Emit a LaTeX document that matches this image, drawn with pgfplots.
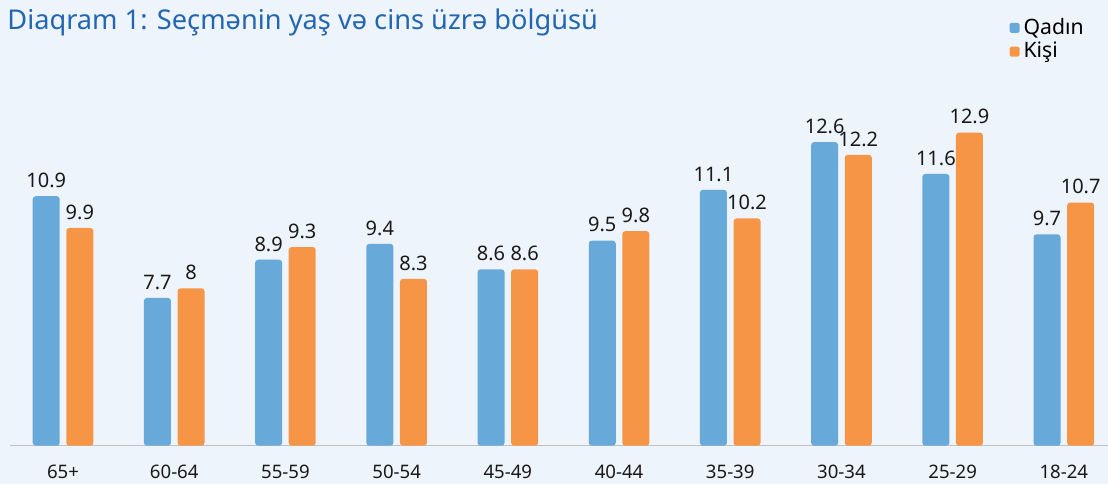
\documentclass[border=0pt]{standalone}
\usepackage{fontspec}
\setmainfont{Noto Sans}
\usepackage{pgfplots}
\pgfplotsset{compat=1.18}
\definecolor{bgc}{RGB}{238,244,251}
\definecolor{qblue}{RGB}{103,170,217}
\definecolor{korange}{RGB}{247,149,70}
\definecolor{titleblue}{RGB}{34,102,178}
\definecolor{axisgray}{RGB}{190,193,198}
\definecolor{txt}{RGB}{25,25,25}

\begin{document}
\begin{tikzpicture}
% 1 px of the reference = 0.5pt
\path[use as bounding box, fill=bgc] (0,0) rectangle (554pt,242pt);
\node[anchor=base west, text=titleblue, font=\fontsize{13.6}{15}\selectfont, inner sep=0pt]
  at (3.5pt,227.5pt) {Diaqram 1: Seçmənin yaş və cins üzrə bölgüsü};
\begin{axis}[
    at={(5pt,19.15pt)}, anchor=south west,
    scale only axis, width=549pt, height=222.85pt,
    ybar=3.3pt, bar width=13.5pt,
    xmin=-0.477, xmax=9.397, ymin=3.05, ymax=17.07,
    xtick={0,...,9},
    xticklabels={65+,60-64,55-59,50-54,45-49,40-44,35-39,30-34,25-29,18-24},
    ytick=\empty,
    axis x line*=bottom, axis y line=none,
    x axis line style={draw=axisgray, line width=0.7pt},
    major tick length=0pt,
    xticklabel style={font=\fontsize{9.3}{11}\selectfont, text=txt, yshift=-6pt},
    nodes near coords,
    every node near coord/.append style={font=\fontsize{10}{12}\selectfont, text=txt, inner sep=1pt, yshift=3pt},
    /pgf/number format/assume math mode=true,
    clip mode=individual,
    legend cell align=left,
    legend style={at={(0.910,0.969)}, anchor=north west, draw=none, fill=none,
        font=\fontsize{10.6}{12}\selectfont, row sep=-1.5pt, inner sep=0pt},
]
\addplot[fill=qblue, draw=none, rounded corners=1.5pt,
    legend image code/.code={\fill[qblue, rounded corners=0.8pt] (0pt,-2.5pt) rectangle (5pt,2.5pt);}]
  coordinates {(0,10.9) (1,7.7) (2,8.9) (3,9.4) (4,8.6) (5,9.5) (6,11.1) (7,12.6) (8,11.6) (9,9.7)};
\addplot[fill=korange, draw=none, rounded corners=1.5pt,
    legend image code/.code={\fill[korange, rounded corners=0.8pt] (0pt,-2.5pt) rectangle (5pt,2.5pt);}]
  coordinates {(0,9.9) (1,8) (2,9.3) (3,8.3) (4,8.6) (5,9.8) (6,10.2) (7,12.2) (8,12.9) (9,10.7)};
\legend{Qadın, Kişi}
\end{axis}
\end{tikzpicture}
\end{document}
